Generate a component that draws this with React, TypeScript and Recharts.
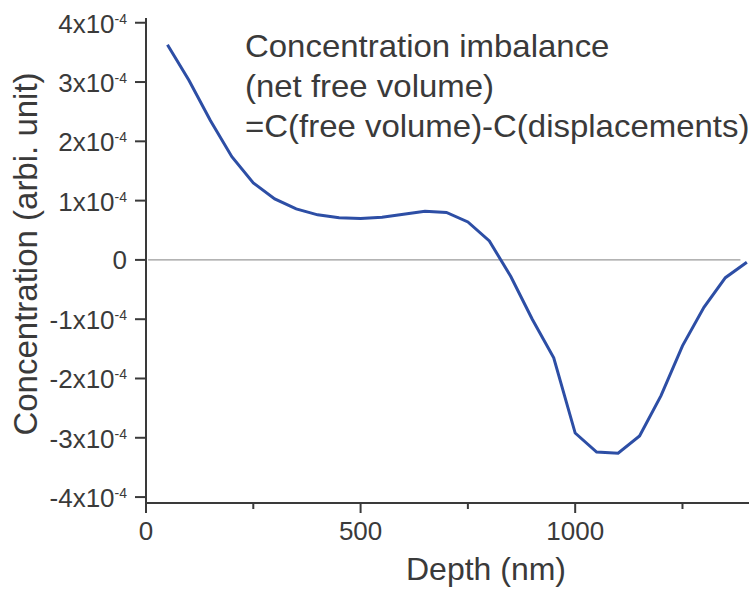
import React from "react";
import { LineChart, Line, XAxis, YAxis, ReferenceLine } from "recharts";

const depth = [50, 100, 150, 200, 250, 300, 350, 400, 450, 500, 550, 600, 650, 700, 750, 800, 850, 900, 950, 1000, 1050, 1100, 1150, 1200, 1250, 1300, 1350, 1400];
const imbalance = [
  3.63e-4, 3.03e-4, 2.35e-4, 1.74e-4, 1.3e-4, 1.03e-4, 0.86e-4, 0.76e-4, 0.71e-4, 0.7e-4,
  0.72e-4, 0.77e-4, 0.82e-4, 0.8e-4, 0.64e-4, 0.32e-4, -0.28e-4, -1.0e-4, -1.65e-4, -2.92e-4,
  -3.24e-4, -3.26e-4, -2.97e-4, -2.29e-4, -1.45e-4, -0.8e-4, -0.3e-4, -0.04e-4,
];
const yTicks = [-4e-4, -3e-4, -2e-4, -1e-4, 0, 1e-4, 2e-4, 3e-4, 4e-4];
const xTicks = [0, 250, 500, 750, 1000, 1250];
const xLabels = [0, 500, 1000];
const note = ["Concentration imbalance", "(net free volume)", "=C(free volume)-C(displacements)"];

const data = depth.map((d, i) => ({ depth: d, value: imbalance[i] }));

const FONT = '"Liberation Sans", Arial, Helvetica, sans-serif';
const INK = "#3a3a3a";

function YTick(props: any) {
  const { x, y, payload } = props;
  const k = Math.round(payload.value * 1e4);
  return (
    <g>
      <line x1={x - 11} y1={y} x2={x} y2={y} stroke={INK} strokeWidth={2} />
      {k === 0 ? (
        <text x={x - 19} y={y + 9} textAnchor="end" fontSize={26} fill={INK} fontFamily={FONT}>
          0
        </text>
      ) : (
        <text x={x - 19} y={y + 10} textAnchor="end" fontSize={26} fill={INK} fontFamily={FONT}>
          <tspan>{k}x10</tspan>
          <tspan dy={-9} fontSize={14}>-4</tspan>
        </text>
      )}
    </g>
  );
}

function XTick(props: any) {
  const { x, y, payload } = props;
  const major = xLabels.includes(payload.value);
  return (
    <g>
      <line x1={x} y1={y} x2={x} y2={y + (major ? 10 : 6)} stroke={INK} strokeWidth={2} />
      {major && (
        <text x={x} y={y + 37} textAnchor="middle" fontSize={26} fill={INK} fontFamily={FONT}>
          {payload.value}
        </text>
      )}
    </g>
  );
}

export default function App() {
  return (
    <div style={{ position: "absolute", left: 0, top: 0, width: 755, height: 593, background: "#fff" }}>
      <LineChart width={755} height={593} data={data} margin={{ top: 18, right: 6, bottom: 60, left: 46 }}>
        <XAxis
          dataKey="depth"
          type="number"
          domain={[0, 1405]}
          ticks={xTicks}
          height={30}
          tickSize={0}
          tickMargin={0}
          tickLine={false}
          axisLine={{ stroke: INK, strokeWidth: 2 }}
          tick={<XTick />}
          allowDataOverflow
        />
        <YAxis
          type="number"
          domain={[-4.1e-4, 4.08e-4]}
          ticks={yTicks}
          width={100}
          tickSize={0}
          tickMargin={0}
          tickLine={false}
          axisLine={{ stroke: INK, strokeWidth: 2 }}
          tick={<YTick />}
          allowDataOverflow
        />
        <ReferenceLine
          segment={[{ x: 5, y: 0 }, { x: 1385, y: 0 }]}
          stroke="#9a9a9a"
          strokeWidth={1.3}
        />
        <Line
          type="linear"
          dataKey="value"
          stroke="#2d4ea5"
          strokeWidth={3}
          dot={false}
          isAnimationActive={false}
        />
      </LineChart>
      <svg width={755} height={593} style={{ position: "absolute", left: 0, top: 0, pointerEvents: "none" }}>
        <g transform="translate(245 0) scale(1.063 1)">
          {note.map((t, i) => (
            <text key={t} x={0} y={57 + i * 40} fontSize={31} fill={INK} fontFamily={FONT}>
              {t}
            </text>
          ))}
        </g>
        <text x={486} y={580} textAnchor="middle" fontSize={32} fill={INK} fontFamily={FONT}>
          Depth (nm)
        </text>
        <text
          x={37}
          y={254}
          textAnchor="middle"
          fontSize={33}
          fill={INK}
          fontFamily={FONT}
          transform="rotate(-90 37 254)"
        >
          Concentration (arbi. unit)
        </text>
      </svg>
    </div>
  );
}
